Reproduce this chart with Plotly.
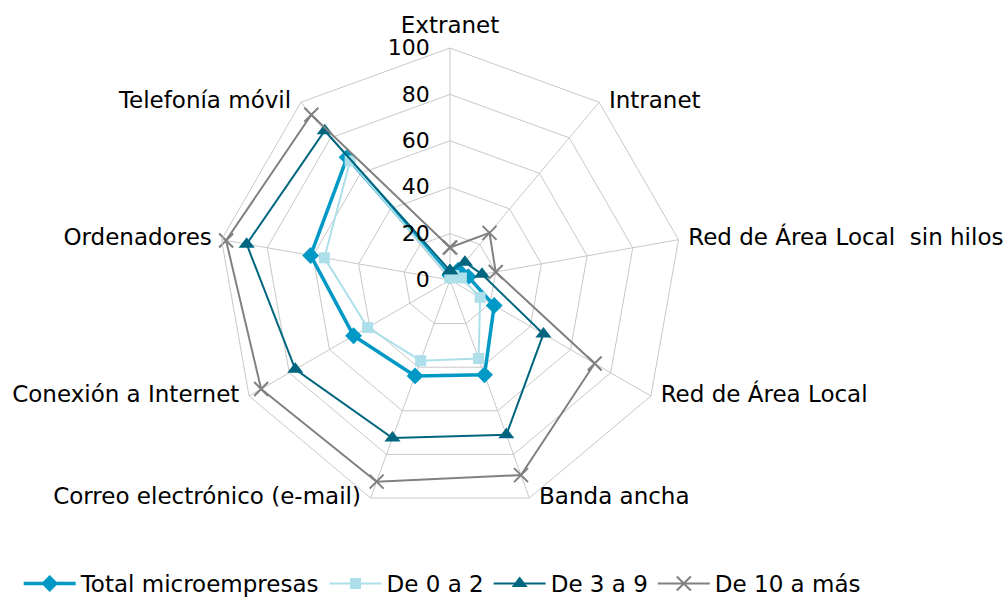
import plotly.graph_objects as go

# ICT adoption in micro-enterprises, by size band (%)
categorias = [
    "Extranet",
    "Intranet",
    "Red de Área Local  sin hilos",
    "Red de Área Local",
    "Banda ancha",
    "Correo electrónico (e-mail)",
    "Conexión a Internet",
    "Ordenadores",
    "Telefonía móvil",
]

total_micro = [2, 5.5, 8, 22, 43.5, 44, 48, 61, 69]
de_0_a_2 = [1, 2.5, 5, 15, 36, 37, 41, 55, 67]
de_3_a_9 = [4, 10, 14, 46.5, 71, 72.5, 77, 89, 84]
de_10_a_mas = [14, 26.5, 20, 72, 89.5, 92.5, 94, 98, 93]

radial_ticks = [0, 20, 40, 60, 80, 100]
r_max = 100

# where each category label sits relative to its spoke end
posiciones_etiqueta = [
    "top center",
    "middle right",
    "middle right",
    "middle right",
    "middle right",
    "middle left",
    "middle left",
    "middle left",
    "middle left",
]

FONT = "DejaVu Sans, Verdana, sans-serif"
FS = 23

series = [
    ("Total microempresas", total_micro, "#0099C6", 3.5, "diamond", 13),
    ("De 0 a 2", de_0_a_2, "#ADDFEA", 2, "square", 11),
    ("De 3 a 9", de_3_a_9, "#00667F", 2, "triangle-up", 14),
    ("De 10 a más", de_10_a_mas, "#808080", 2, "x-thin", 14),
]

fig = go.Figure()
for nombre, valores, color, ancho, simbolo, tam in series:
    # close the polygon by repeating the first point
    r = list(valores) + [valores[0]]
    theta = list(categorias) + [categorias[0]]
    marker = dict(symbol=simbolo, size=tam, color=color)
    if simbolo == "x-thin":
        marker["line"] = dict(color=color, width=2)
    fig.add_trace(
        go.Scatterpolar(
            r=r,
            theta=theta,
            mode="lines+markers",
            name=nombre,
            line=dict(color=color, width=ancho),
            marker=marker,
        )
    )

# category labels placed just outside the outer ring
fig.add_trace(
    go.Scatterpolar(
        r=[r_max] * len(categorias),
        theta=categorias,
        mode="markers+text",
        text=categorias,
        textposition=posiciones_etiqueta,
        textfont=dict(family=FONT, size=FS, color="#000000"),
        marker=dict(size=14, color="rgba(0,0,0,0)"),
        cliponaxis=False,
        showlegend=False,
        hoverinfo="skip",
    )
)

fig.update_layout(
    width=1005,
    height=605,
    margin=dict(l=0, r=0, t=0, b=0),
    paper_bgcolor="white",
    plot_bgcolor="white",
    font=dict(family=FONT, size=FS, color="#000000"),
    polar=dict(
        domain=dict(x=[218 / 1005, 682 / 1005], y=[93 / 605, 557 / 605]),
        bgcolor="white",
        gridshape="linear",
        angularaxis=dict(
            direction="clockwise",
            rotation=90,
            showline=True,
            linecolor="#C8C8C8",
            linewidth=1,
            gridcolor="#C8C8C8",
            gridwidth=1,
            ticks="",
            showticklabels=False,
        ),
        radialaxis=dict(
            range=[0, r_max],
            tickvals=radial_ticks,
            angle=90,
            tickangle=90,
            side="counterclockwise",
            showline=False,
            gridcolor="#C8C8C8",
            gridwidth=1,
            ticks="outside",
            ticklen=12,
            tickcolor="rgba(0,0,0,0)",
            tickfont=dict(family=FONT, size=FS - 1, color="#000000"),
        ),
    ),
    legend=dict(
        orientation="h",
        x=0.44,
        xanchor="center",
        y=0,
        yanchor="bottom",
        font=dict(family=FONT, size=FS, color="#000000"),
        itemwidth=52,
        tracegroupgap=0,
    ),
)

fig.write_html("out.html")
